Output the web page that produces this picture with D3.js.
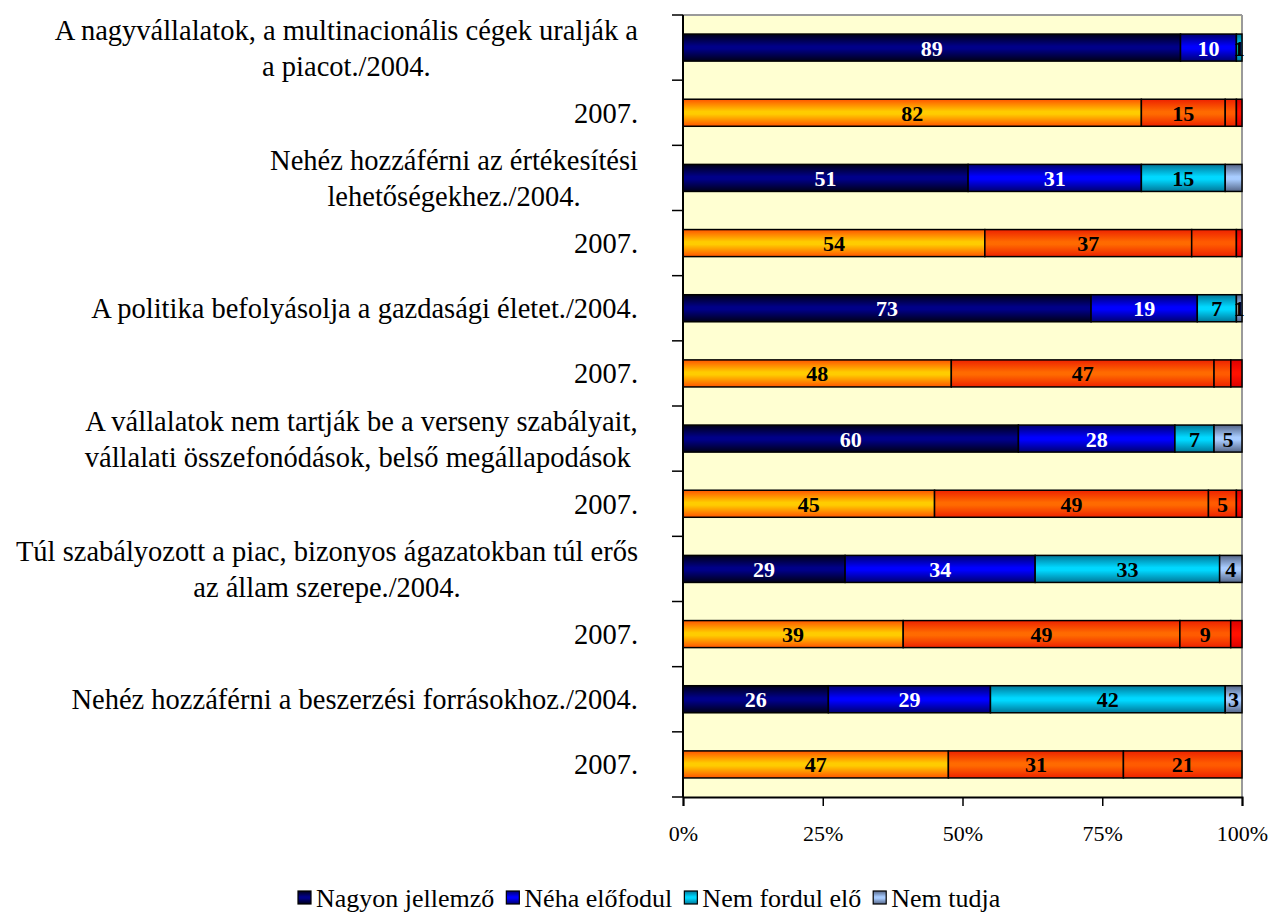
<!DOCTYPE html>
<html><head><meta charset="utf-8">
<script src="https://cdn.jsdelivr.net/npm/d3@7"></script>
<style>body{margin:0;background:#fff;} svg{display:block;}</style>
</head><body>
<svg id="chart" width="1272" height="913"></svg>
<script>
const categories = [
  "A nagyvállalatok, a multinacionális cégek uralják a\na piacot./2004.",
  "2007.",
  "Nehéz hozzáférni az értékesítési\nlehetőségekhez./2004.",
  "2007.",
  "A politika befolyásolja a gazdasági életet./2004.",
  "2007.",
  "A vállalatok nem tartják be a verseny szabályait,\nvállalati összefonódások, belső megállapodások ",
  "2007.",
  "Túl szabályozott a piac, bizonyos ágazatokban túl erős\naz állam szerepe./2004.",
  "2007.",
  "Nehéz hozzáférni a beszerzési forrásokhoz./2004.",
  "2007."
];
const years = [2004,2007,2004,2007,2004,2007,2004,2007,2004,2007,2004,2007];
const seriesNames = ["Nagyon jellemző","Néha előfodul","Nem fordul elő","Nem tudja"];
const nagyon   = [89,82,51,54,73,48,60,45,29,39,26,47];
const neha     = [10,15,31,37,19,47,28,49,34,49,29,31];
const nemFord  = [1, 2, 15, 8, 7, 3, 7, 5, 33, 9, 42,21];
const nemTudja = [0, 1, 3, 1, 1, 2, 5, 1, 4, 2, 3, 0];
// labels shown on the bars ("" = not shown)
const lab1 = ["89","82","51","54","73","48","60","45","29","39","26","47"];
const lab2 = ["10","15","31","37","19","47","28","49","34","49","29","31"];
const lab3 = ["1","","15","","7","","7","5","33","9","42","21"];
const lab4 = ["","","","","1","","5","","4","","3",""];
const xTicks = [0,25,50,75,100];
const xTickLabels = ["0%","25%","50%","75%","100%"];

const FONT = "'Liberation Serif','Times New Roman',serif";
const svg = d3.select("#chart");
const X0 = 683, X1 = 1242, Y0 = 15, Y1 = 797;
const x = d3.scaleLinear().domain([0,100]).range([X0,X1]);
const y = d3.scaleBand().domain(d3.range(categories.length)).range([Y0,Y1]).paddingInner(0.585).paddingOuter(0.2925);
const step = y.step();

// gradients
const defs = svg.append("defs");
const pal = {
  2004: [["#000018","#000088","#000018"],["#000070","#0000FF","#000070"],["#007799","#00D8FF","#007799"],["#556688","#A8CCFF","#556688"]],
  2007: [["#FF5500","#FFCC00","#FF5500"],["#EE2200","#FF6A00","#EE2200"],["#EE2200","#FF5A00","#EE2200"],["#DD0000","#FF1100","#DD0000"]]
};
Object.keys(pal).forEach(yr => pal[yr].forEach((c,i) => {
  const g = defs.append("linearGradient").attr("id",`g${yr}_${i}`).attr("x1",0).attr("y1",0).attr("x2",0).attr("y2",1);
  g.append("stop").attr("offset","0%").attr("stop-color",c[0]);
  g.append("stop").attr("offset","45%").attr("stop-color",c[1]);
  g.append("stop").attr("offset","55%").attr("stop-color",c[1]);
  g.append("stop").attr("offset","100%").attr("stop-color",c[2]);
}));

// plot background
svg.append("rect").attr("x",X0).attr("y",Y0).attr("width",X1-X0).attr("height",Y1-Y0).attr("fill","#FFFFD2");
svg.append("line").attr("x1",X0).attr("x2",X1).attr("y1",Y0).attr("y2",Y0).attr("stroke","#9a9a9a").attr("stroke-width",2);
svg.append("line").attr("x1",X1).attr("x2",X1).attr("y1",Y0).attr("y2",Y1).attr("stroke","#9a9a9a").attr("stroke-width",2);

const series = [nagyon, neha, nemFord, nemTudja];
const labels = [lab1, lab2, lab3, lab4];
categories.forEach((c,r) => {
  const total = series.reduce((s,a)=>s+a[r],0);
  let cum = 0;
  series.forEach((arr,si) => {
    const v = arr[r];
    if (v <= 0) return;
    const a = cum/total*100, b = (cum+v)/total*100;
    cum += v;
    svg.append("rect").attr("x",x(a)).attr("y",y(r)).attr("width",x(b)-x(a)).attr("height",y.bandwidth())
      .attr("fill",`url(#g${years[r]}_${si})`).attr("stroke","#000").attr("stroke-width",1.5);
    const t = labels[si][r];
    if (t) {
      svg.append("text").attr("x",(x(a)+x(b))/2).attr("y",y(r)+y.bandwidth()/2).attr("dy","0.36em")
        .attr("text-anchor","middle").attr("font-family",FONT).attr("font-weight","bold")
        .attr("font-size",22).attr("fill",(years[r]===2004 && si<2)?"#fff":"#000").text(t);
    }
  });
});

// left axis
svg.append("line").attr("x1",X0).attr("x2",X0).attr("y1",Y0).attr("y2",Y1).attr("stroke","#000").attr("stroke-width",2);
d3.range(categories.length+1).forEach(i => {
  svg.append("line").attr("x1",X0-11).attr("x2",X0).attr("y1",Y0+i*step).attr("y2",Y0+i*step).attr("stroke","#000").attr("stroke-width",1.5);
});
// bottom axis
const xAxis = svg.append("g").attr("transform",`translate(0,${Y1})`)
  .call(d3.axisBottom(x).tickValues(xTicks).tickFormat((d,i)=>xTickLabels[i]).tickSize(9).tickPadding(19));
xAxis.select(".domain").attr("stroke","#000").attr("stroke-width",2);
xAxis.selectAll(".tick line").attr("stroke","#000").attr("stroke-width",1.5);
xAxis.selectAll(".tick text").attr("font-family",FONT).attr("font-size",22).attr("fill","#000");

// category labels
const lineH = 36;
categories.forEach((c,r) => {
  const lines = c.split("\n");
  const g = svg.append("g");
  const cy = y(r) + y.bandwidth()/2;
  const texts = lines.map((l,i) => g.append("text").attr("font-family",FONT).attr("font-size",28.5)
    .attr("fill","#000").attr("y", cy + (i-(lines.length-1)/2)*lineH).attr("dy","0.35em").attr("text-anchor","middle")
    .attr("xml:space","preserve").text(l));
  const maxW = d3.max(texts, t => t.node().getComputedTextLength());
  texts.forEach(t => t.attr("x", 638 - maxW/2));
});

// legend
const lg = svg.append("g");
let lx = 298; const ly = 898;
seriesNames.forEach((n,i) => {
  lg.append("rect").attr("x",lx).attr("y",ly-7).attr("width",13).attr("height",13)
    .attr("fill",`url(#g2004_${i})`).attr("stroke","#000").attr("stroke-width",1.2);
  const t = lg.append("text").attr("x",lx+18).attr("y",ly).attr("dy","0.35em").attr("font-family",FONT)
    .attr("font-size",26).attr("fill","#000").text(n);
  lx += 18 + t.node().getComputedTextLength() + 12;
});
</script>
</body></html>
